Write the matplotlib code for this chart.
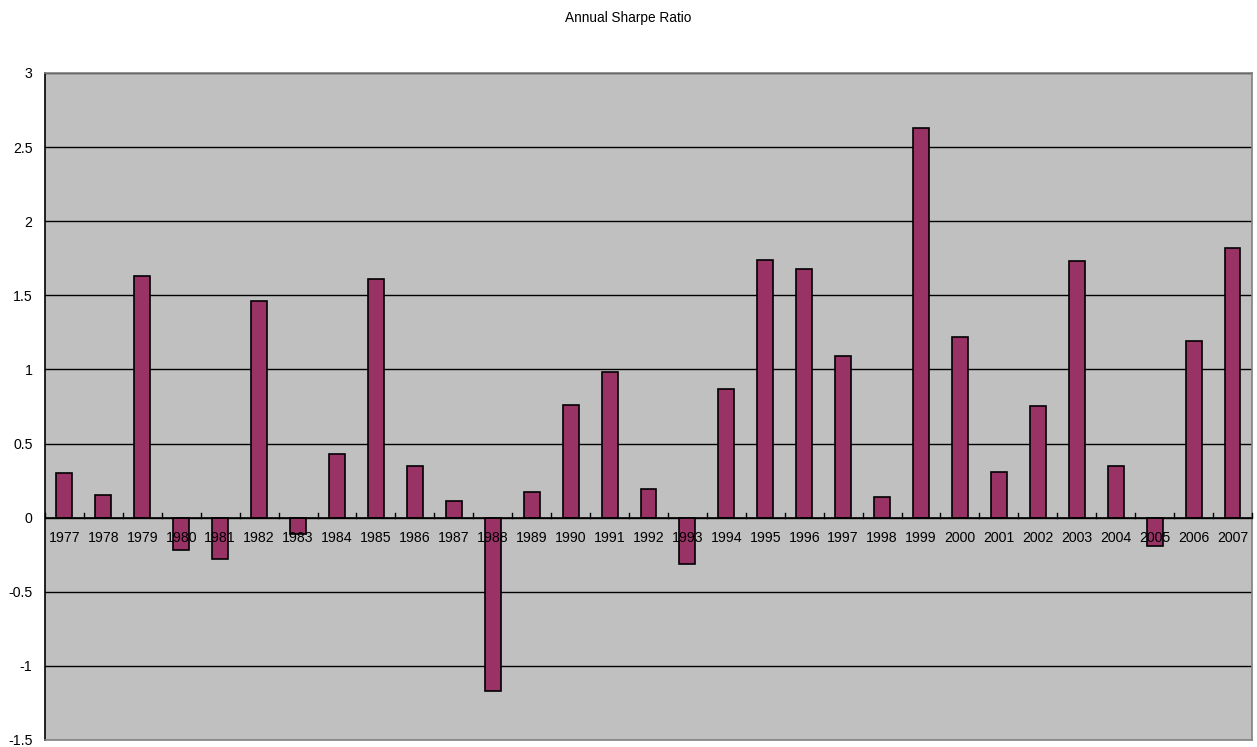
import matplotlib
matplotlib.use("Agg")
import matplotlib.pyplot as plt
import numpy as np

years = ["1977", "1978", "1979", "1980", "1981", "1982", "1983", "1984", "1985", "1986",
         "1987", "1988", "1989", "1990", "1991", "1992", "1993", "1994", "1995", "1996",
         "1997", "1998", "1999", "2000", "2001", "2002", "2003", "2004", "2005", "2006", "2007"]
sharpe = [0.30, 0.15, 1.63, -0.22, -0.28, 1.46, -0.11, 0.43, 1.61, 0.35,
          0.11, -1.17, 0.175, 0.76, 0.98, 0.195, -0.31, 0.87, 1.74, 1.68,
          1.09, 0.14, 2.63, 1.22, 0.31, 0.755, 1.73, 0.35, -0.19, 1.19, 1.82]
y_ticks = [-1.5, -1, -0.5, 0, 0.5, 1, 1.5, 2, 2.5, 3]
y_tick_labels = ["-1.5", "-1", "-0.5", "0", "0.5", "1", "1.5", "2", "2.5", "3"]

plt.rcParams["font.family"] = ["Liberation Sans", "DejaVu Sans"]

fig = plt.figure(figsize=(12.57, 7.47), dpi=100)
ax = fig.add_axes([0.0358, 0.0094, 0.9602, 0.8929])
ax.set_facecolor("#C0C0C0")

n = len(years)
x = np.arange(n)
ax.set_xlim(-0.5, n - 0.5)
ax.set_ylim(-1.5, 3)

# horizontal gridlines behind the bars
for t in y_ticks[1:]:
    ax.axhline(t, color="black", lw=1.0, zorder=0.5)

ax.bar(x, sharpe, width=0.41, color="#993366", edgecolor="black", linewidth=1.2, zorder=2)

# plot-area border: grey on top/right/bottom, black value axis on the left
for side in ["top", "right", "bottom"]:
    ax.spines[side].set_color("#808080")
    ax.spines[side].set_linewidth(1.2)
ax.spines["left"].set_color("black")
ax.spines["left"].set_linewidth(1.2)

ax.set_yticks(y_ticks)
ax.set_yticklabels(y_tick_labels, fontsize=10.2)
ax.tick_params(axis="y", length=0, pad=9)
ax.set_xticks([])

# category axis at zero with boundary tick marks pointing up
ax.axhline(0, color="black", lw=1.2, zorder=3)
for b in np.arange(n + 1) - 0.5:
    ax.plot([b, b], [0, 0.03], color="black", lw=1.0, zorder=3, clip_on=False)

for xi, lab in zip(x, years):
    ax.annotate(lab, xy=(xi, 0), xytext=(0, -14.5), textcoords="offset points",
                ha="center", va="center", fontsize=10.2, zorder=4)

fig.text(0.5, 1 - 18 / 747, "Annual Sharpe Ratio", ha="center", va="center", fontsize=9.8)

fig.savefig("out.png", dpi=100, facecolor="white")
